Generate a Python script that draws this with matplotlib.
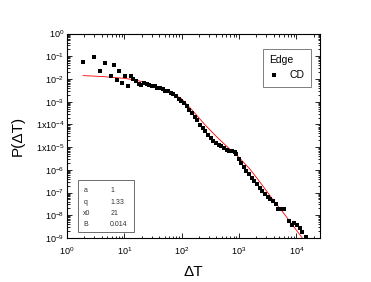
import numpy as np
import matplotlib
matplotlib.use("Agg")
import matplotlib.pyplot as plt
from matplotlib.ticker import LogLocator, FixedLocator, NullFormatter
from matplotlib.patches import Rectangle

plt.rcParams['font.family'] = ['Liberation Sans', 'DejaVu Sans']
plt.rcParams['mathtext.default'] = 'regular'

# ---- data ----
dT = [1.88, 2.93, 3.73, 4.62, 5.73, 6.46, 7.29, 8.13, 9.16, 10.2,
      11.5, 12.8, 14.3, 15.8, 17.7, 19.7, 21.9, 24.4, 27.2, 30.2,
      33.7, 37.5, 41.7, 46.6, 51.6, 57.5, 64.1, 71.3, 79.4, 88.5,
      98.4, 110, 122, 136, 151, 169, 188, 209, 233, 259,
      288, 321, 357, 398, 444, 493, 550, 612, 679, 759,
      845, 891, 977, 1072, 1197, 1318, 1479, 1648, 1832, 2042,
      2275, 2529, 2818, 3141, 3491, 3890, 4335, 4819, 5370, 5984,
      7413, 8260, 9183, 10233, 11402, 12677, 14454]
P = [0.055, 0.091, 0.0234, 0.0513, 0.0138, 0.0398, 0.0091, 0.0229, 0.0069, 0.0132,
     0.0050, 0.0129, 0.0098, 0.0078, 0.0063, 0.0054, 0.0068, 0.0059, 0.0055, 0.0050,
     0.0047, 0.0042, 0.0040, 0.0035, 0.0031, 0.0029, 0.00245, 0.00214, 0.00178, 0.00138,
     0.0011, 8.7e-4, 6.2e-4, 4.4e-4, 3.2e-4, 2.2e-4, 1.5e-4, 9.8e-5, 6.9e-5, 4.9e-5,
     3.5e-5, 2.5e-5, 1.95e-5, 1.51e-5, 1.26e-5, 1.10e-5, 9.1e-6, 7.8e-6, 7.1e-6, 6.6e-6,
     6.2e-6, 5.0e-6, 3.0e-6, 2.04e-6, 1.35e-6, 9.3e-7, 6.6e-7, 4.5e-7, 3.2e-7, 2.3e-7,
     1.62e-7, 1.15e-7, 8.3e-8, 6.3e-8, 5.4e-8, 4.2e-8, 3.0e-8, 1.95e-8, 1.82e-8, 1.82e-8,
     5.6e-9, 3.9e-9, 4.7e-9, 3.6e-9, 2.9e-9, 1.82e-9, 1.15e-9]

# fitted curve (red)
fit_x = [1.9, 4.0, 10, 15.8, 25.1, 39.8, 63.1, 100, 158, 251,
         398, 631, 1000, 1585, 2512, 3981, 6310, 10000, 12900]
fit_y = [0.0141, 0.0129, 0.0107, 0.0089, 0.0066, 0.00437, 0.00263, 0.00132, 3.8e-4, 1.0e-4,
         3.0e-5, 1.0e-5, 3.5e-6, 1.0e-6, 2.2e-7, 4.5e-8, 1.05e-8, 2.2e-9, 9.5e-10]

params = ['a', 'q', 'x0', 'B']
param_vals = ['1', '1.33', '21', '0.014']

ytick_vals = [1e0, 1e-1, 1e-2, 1e-3, 1e-4, 1e-5, 1e-6, 1e-7, 1e-8, 1e-9]
ytick_labels = ['$10^{0}$', '$10^{-1}$', '$10^{-2}$', '$10^{-3}$', '$1x10^{-4}$',
                '$1x10^{-5}$', '$10^{-6}$', '$10^{-7}$', '$10^{-8}$', '$10^{-9}$']
xtick_vals = [1e0, 1e1, 1e2, 1e3, 1e4]
xtick_labels = ['$10^{0}$', '$10^{1}$', '$10^{2}$', '$10^{3}$', '$10^{4}$']

# ---- figure ----
fig = plt.figure(figsize=(3.71, 2.82), dpi=100)
ax = fig.add_axes([0.181, 0.156, 0.682, 0.725])

ax.plot(fit_x, fit_y, color='red', lw=0.6, zorder=2)
ax.plot(dT, P, 's', color='black', ms=3.4, mew=0, zorder=3, label='CD')

ax.set_xscale('log')
ax.set_yscale('log')
ax.set_xlim(1, 26000)
ax.set_ylim(1e-9, 1)

ax.xaxis.set_major_locator(FixedLocator(xtick_vals))
ax.set_xticklabels(xtick_labels)
ax.yaxis.set_major_locator(FixedLocator(ytick_vals))
ax.set_yticklabels(ytick_labels)
ax.xaxis.set_minor_locator(LogLocator(base=10, subs=np.arange(2, 10), numticks=20))
ax.yaxis.set_minor_locator(LogLocator(base=10, subs=np.arange(2, 10), numticks=20))
ax.xaxis.set_minor_formatter(NullFormatter())
ax.yaxis.set_minor_formatter(NullFormatter())

ax.tick_params(which='both', direction='in', top=True, right=True, width=0.6,
               labelsize=6.5)
ax.tick_params(axis='y', pad=2)
ax.tick_params(axis='x', pad=5)
ax.tick_params(which='major', length=3.5)
ax.tick_params(which='minor', length=1.8)
for s in ax.spines.values():
    s.set_linewidth(0.8)

ax.set_xlabel('ΔT', fontsize=11, labelpad=6)
ax.set_ylabel('P(ΔT)', fontsize=11, labelpad=8)

leg = ax.legend(title='Edge', loc='upper right',
                bbox_to_anchor=(0.985, 0.95), frameon=True, fancybox=False,
                fontsize=7.5, title_fontsize=7.5, alignment='left',
                handlelength=1.0, handletextpad=1.0, borderpad=0.6,
                markerscale=1.0)
leg.get_frame().set_edgecolor('#444444')
leg.get_frame().set_linewidth(0.6)

# parameter box, lower left
box = Rectangle((0.043, 0.027), 0.222, 0.255, transform=ax.transAxes,
                fill=False, edgecolor='#555555', lw=0.6, zorder=4)
ax.add_patch(box)
for i, (p, v) in enumerate(zip(params, param_vals)):
    yy = 0.23 - i * 0.055
    ax.text(0.064, yy, p, transform=ax.transAxes, fontsize=5, color='#333333',
            va='center')
    ax.text(0.17, yy, v, transform=ax.transAxes, fontsize=5, color='#333333',
            va='center')

fig.savefig('out.png', dpi=100)
